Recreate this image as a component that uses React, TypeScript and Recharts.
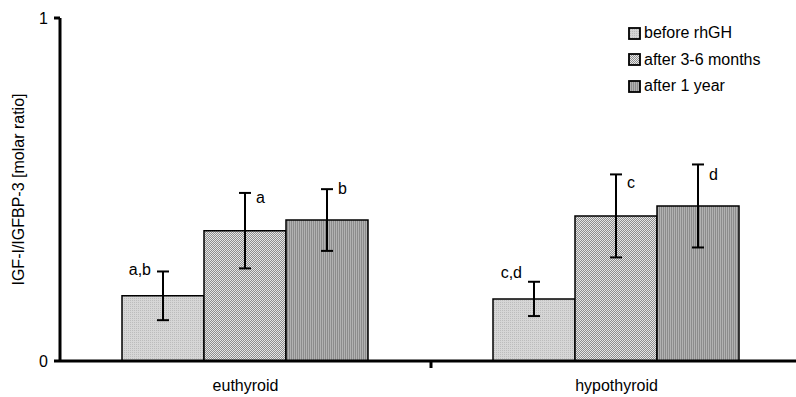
import { Bar, BarChart, ErrorBar, LabelList, XAxis, YAxis } from 'recharts'

const groups = ['euthyroid', 'hypothyroid']

const beforeValues = [0.19, 0.181]
const beforeErrors = [0.071, 0.05]
const beforeLabels = ['a,b', 'c,d']

const midValues = [0.38, 0.423]
const midErrors = [0.11, 0.121]
const midLabels = ['a', 'c']

const yearValues = [0.411, 0.452]
const yearErrors = [0.09, 0.121]
const yearLabels = ['b', 'd']

const yTicks = [0, 1]

const seriesInfo = [
  { key: 'before', name: 'before rhGH', fill: 'url(#pBefore)', left: true, lift: 21 },
  { key: 'mid', name: 'after 3-6 months', fill: 'url(#pMid)', left: false, lift: 28 },
  { key: 'year', name: 'after 1 year', fill: 'url(#pYear)', left: false, lift: 26 },
]

const data = groups.map((g, i) => ({
  group: g,
  before: beforeValues[i],
  beforeErr: beforeErrors[i],
  beforeLabel: beforeLabels[i],
  mid: midValues[i],
  midErr: midErrors[i],
  midLabel: midLabels[i],
  year: yearValues[i],
  yearErr: yearErrors[i],
  yearLabel: yearLabels[i],
}))

const font = '"Liberation Sans", Arial, sans-serif'

function makeLabel(left: boolean, lift: number) {
  return (props: any) => {
    const { x, y, width, value } = props
    const mid = Number(x) + Number(width) / 2
    return (
      <text
        x={left ? mid - 12 : mid + 11}
        y={Number(y) - lift}
        textAnchor={left ? 'end' : 'start'}
        fontSize={16}
        fill="#000"
        fontFamily={font}
      >
        {value}
      </text>
    )
  }
}

// category label plus the short divider tick between the two groups
function GroupTick(props: any) {
  const { x, y, payload, index } = props
  const half = payload?.offset ?? 0
  return (
    <g>
      <text x={x} y={y + 22} textAnchor="middle" fontSize={16} fill="#000" fontFamily={font}>
        {payload.value}
      </text>
      {index === 0 && <line x1={x + half} y1={y - 8} x2={x + half} y2={y - 1} stroke="#000" strokeWidth={3} />}
    </g>
  )
}

function LegendBox() {
  return (
    <div
      style={{
        position: 'absolute',
        left: 628,
        top: 20,
        fontFamily: font,
        fontSize: 16,
        color: '#000',
      }}
    >
      {seriesInfo.map((s) => (
        <div key={s.key} style={{ display: 'flex', alignItems: 'center', height: 26.5 }}>
          <svg width={13} height={13} style={{ marginRight: 3 }}>
            <rect x={1} y={1} width={11} height={11} fill={s.fill} stroke="#000" strokeWidth={1.8} />
          </svg>
          <span>{s.name}</span>
        </div>
      ))}
    </div>
  )
}

export default function App() {
  return (
    <div style={{ position: 'absolute', left: 0, top: 0, width: 796, height: 397, overflow: 'hidden', background: '#fff' }}>
      <BarChart
        width={806}
        height={397}
        data={data}
        margin={{ top: 18, right: 4, left: 0, bottom: 0 }}
        barCategoryGap={62}
        barGap={0}
        style={{ fontFamily: font }}
      >
        <defs>
          <pattern id="pBefore" width={2} height={2} patternUnits="userSpaceOnUse">
            <rect width={2} height={2} fill="#d6d6d6" />
            <rect width={1} height={1} fill="#bcbcbc" />
          </pattern>
          <pattern id="pMid" width={2} height={2} patternUnits="userSpaceOnUse">
            <rect width={2} height={2} fill="#e6e6e6" />
            <rect x={1} y={0} width={1} height={1} fill="#8e8e8e" />
            <rect x={0} y={1} width={1} height={1} fill="#8e8e8e" />
          </pattern>
          <pattern id="pYear" width={2} height={2} patternUnits="userSpaceOnUse">
            <rect width={2} height={2} fill="#b2b2b2" />
            <rect x={1} y={0} width={1} height={2} fill="#8c8c8c" />
          </pattern>
        </defs>
        <XAxis
          dataKey="group"
          height={36}
          axisLine={{ stroke: '#000', strokeWidth: 3 }}
          tickLine={false}
          tick={<GroupTick />}
          interval={0}
        />
        <YAxis
          width={60}
          domain={[0, 1]}
          ticks={yTicks}
          axisLine={{ stroke: '#000', strokeWidth: 3 }}
          tickLine={{ stroke: '#000', strokeWidth: 3 }}
          tickSize={6}
          tickMargin={6}
          tick={{ fontSize: 16, fill: '#000', fontFamily: font }}
          label={{
            value: 'IGF-I/IGFBP-3 [molar ratio]',
            angle: -90,
            position: 'insideLeft',
            offset: 18,
            style: { textAnchor: 'middle', fontSize: 16, fill: '#000', fontFamily: font },
          }}
        />
        {seriesInfo.map((s) => (
          <Bar
            key={s.key}
            dataKey={s.key}
            name={s.name}
            fill={s.fill}
            stroke="#000"
            strokeWidth={1.5}
            isAnimationActive={false}
          >
            <ErrorBar dataKey={`${s.key}Err`} width={6} stroke="#000" strokeWidth={2} direction="y" />
            <LabelList dataKey={`${s.key}Label`} content={makeLabel(s.left, s.lift)} />
          </Bar>
        ))}
      </BarChart>
      <LegendBox />
    </div>
  )
}
